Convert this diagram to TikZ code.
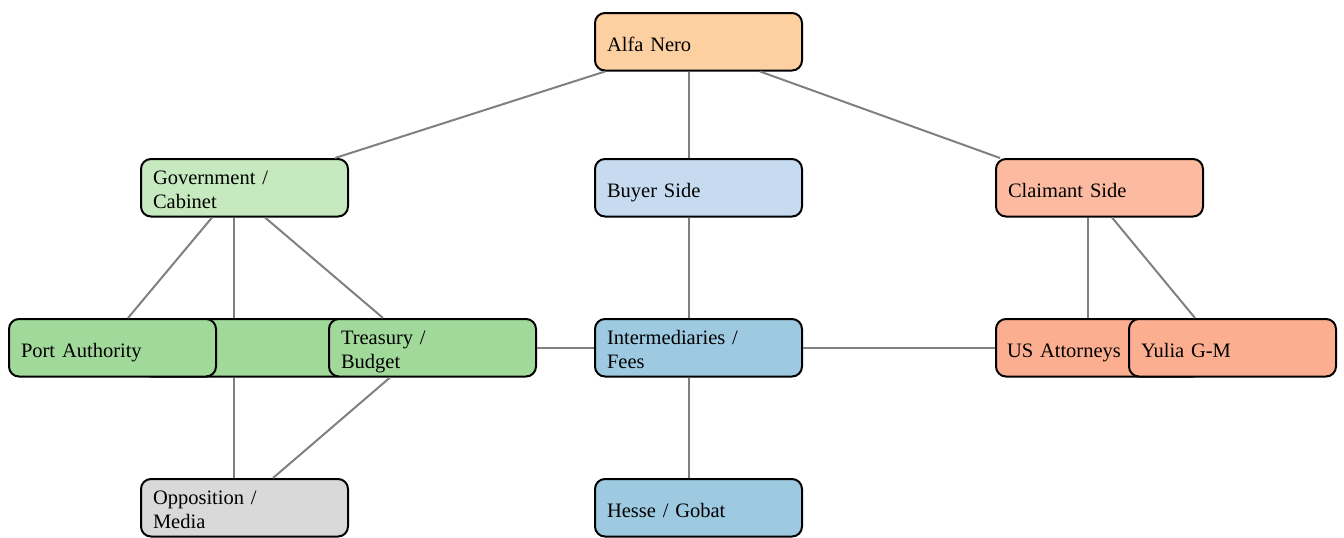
\documentclass[tikz,border=0pt]{standalone}
\usepackage{fontspec}
\setmainfont{Liberation Serif}
\usetikzlibrary{calc}
\definecolor{cOrange}{HTML}{FDD0A2}
\definecolor{cGreenL}{HTML}{C7E9C0}
\definecolor{cGreen}{HTML}{A1D99B}
\definecolor{cBlueL}{HTML}{C6DBEF}
\definecolor{cBlue}{HTML}{9ECAE1}
\definecolor{cRedL}{HTML}{FCBBA1}
\definecolor{cRed}{HTML}{FCAE91}
\definecolor{cGray}{HTML}{D9D9D9}
\definecolor{cEdge}{HTML}{808080}
\begin{document}
\begin{tikzpicture}[x=1pt,y=-1pt,
  box/.style={draw=black, line width=2pt, rounded corners=10pt, anchor=north west,
    minimum width=207pt, minimum height=57.5pt, text width=183pt, inner xsep=12pt,
    inner ysep=0pt, align=left, font=\fontsize{20.5}{24}\selectfont},
  oneline/.style={text height=19pt, text depth=0pt},
  twoline/.style={text depth=20pt},
  edge/.style={draw=cEdge, line width=2pt}]
\useasboundingbox (0,0) rectangle (1344,538);
% nodes
\node[box, oneline, fill=cOrange] (alfa) at (594,12) {Alfa Nero};
\node[box, twoline, fill=cGreenL] (gov) at (140,158) {Government /\\Cabinet};
\node[box, oneline, fill=cBlueL] (buyer) at (594,158) {Buyer Side};
\node[box, oneline, fill=cRedL] (claim) at (995,158) {Claimant Side};
\node[box, fill=cGreen] (hidden) at (140,318) {};
\node[box, oneline, fill=cGreen] (port) at (8,318) {Port Authority};
\node[box, twoline, fill=cGreen] (treas) at (328,318) {Treasury /\\Budget};
\node[box, twoline, fill=cBlue] (inter) at (594,318) {Intermediaries /\\Fees};
\node[box, oneline, fill=cRed, inner xsep=11pt, text width=185pt] (usatt) at (995,318) {US Attorneys};
\node[box, oneline, fill=cRed] (yulia) at (1128,318) {Yulia G-M};
\node[box, twoline, fill=cGray] (opp) at (140,478) {Opposition /\\Media};
\node[box, oneline, fill=cBlue] (hesse) at (594,478) {Hesse / Gobat};
% edges
\draw[edge] ($(alfa.south west)+(11,0)$) -- ($(gov.north east)+(-14,0)$);
\draw[edge] ($(alfa.south)+(-10,0)$) -- ($(buyer.north)+(-10,0)$);
\draw[edge] ($(alfa.south east)+(-43,0)$) -- ($(claim.north west)+(5,0)$);
\draw[edge] ($(gov.south west)+(72,0)$) -- ($(port.north west)+(120,0)$);
\draw[edge] ($(gov.south west)+(94,0)$) -- ($(hidden.north west)+(94,0)$);
\draw[edge] ($(gov.south west)+(125,0)$) -- ($(treas.north west)+(55,0)$);
\draw[edge] ($(hidden.south west)+(94,0)$) -- ($(opp.north west)+(94,0)$);
\draw[edge] ($(treas.south west)+(62,0)$) -- ($(opp.north west)+(133,0)$);
\draw[edge] ($(buyer.south)+(-10,0)$) -- ($(inter.north)+(-10,0)$);
\draw[edge] (treas.east) -- (inter.west);
\draw[edge] (inter.east) -- (usatt.west);
\draw[edge] ($(inter.south)+(-10,0)$) -- ($(hesse.north)+(-10,0)$);
\draw[edge] ($(claim.south west)+(93,0)$) -- ($(usatt.north west)+(93,0)$);
\draw[edge] ($(claim.south west)+(117,0)$) -- ($(yulia.north west)+(67,0)$);
\end{tikzpicture}
\end{document}
